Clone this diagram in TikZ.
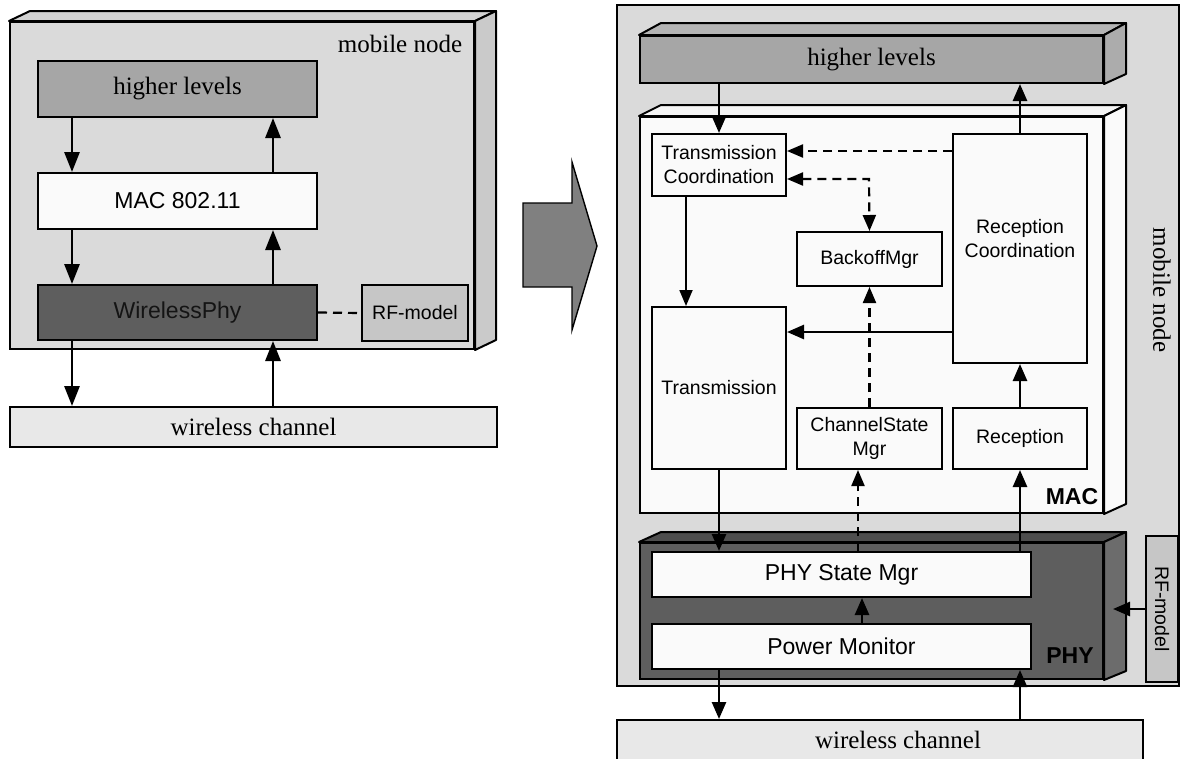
\documentclass[tikz,border=0pt]{standalone}
\usepackage{fontspec}
\setmainfont{Liberation Serif}
\setsansfont{Liberation Sans}
\usetikzlibrary{arrows.meta,calc}
\definecolor{bggray}{HTML}{DADADA}
\definecolor{bgtop}{HTML}{D2D2D2}
\definecolor{bgside}{HTML}{CACACA}
\definecolor{hlgray}{HTML}{A6A6A6}
\definecolor{hltop}{HTML}{B4B4B4}
\definecolor{hlside}{HTML}{ACACAC}
\definecolor{macwhite}{HTML}{FAFAFA}
\definecolor{macside}{HTML}{F4F4F4}
\definecolor{phygray}{HTML}{5E5E5E}
\definecolor{phytop}{HTML}{4E4E4E}
\definecolor{physide}{HTML}{6C6C6C}
\definecolor{rfgray}{HTML}{C6C6C6}
\definecolor{wcgray}{HTML}{E8E8E8}
\definecolor{bigarrow}{HTML}{808080}
\definecolor{textdark}{HTML}{141414}
\begin{document}
\begin{tikzpicture}[x=1pt,y=-1pt,
  blk/.style={draw, line width=2pt, inner sep=0pt, align=center},
  face/.style={draw, line width=2pt, line join=round},
  serif25/.style={font=\rmfamily\fontsize{25}{28}\selectfont},
  sansL/.style={font=\sffamily\fontsize{23}{27}\selectfont},
  sansS/.style={font=\sffamily\fontsize{19.5}{24}\selectfont},
  sansB/.style={font=\sffamily\bfseries\fontsize{23}{27}\selectfont},
  arrL/.style={line width=2.8pt, -{Triangle[width=15pt,length=20pt]}},
  arrR/.style={line width=2.6pt, -{Triangle[width=14pt,length=17pt]}},
  arrT/.style={line width=1.8pt, -{Triangle[width=13pt,length=16pt]}},
  darr/.style={line width=2.2pt, dash pattern=on 9pt off 6pt, -{Triangle[width=13pt,length=16pt]}},
  ddarr/.style={line width=2.2pt, dash pattern=on 9pt off 6pt, {Triangle[width=13pt,length=16pt]}-{Triangle[width=13pt,length=16pt]}},
  dline/.style={line width=2.2pt, dash pattern=on 9pt off 6pt},
]
\useasboundingbox[fill=white] (0,0) rectangle (1181,758);

%% ---------------- left panel ----------------
\node[blk, fill=bggray, minimum width=464, minimum height=327] (lmn) at (242,185.5) {};
\draw[face, fill=bgtop] (lmn.north west) -- ++(21,-10) -- ([xshift=21pt,yshift=10pt]lmn.north east) -- (lmn.north east) -- cycle;
\draw[face, fill=bgside] (lmn.north east) -- ++(21,-10) -- ([xshift=21pt,yshift=10pt]lmn.south east) -- (lmn.south east) -- cycle;
\node[serif25] (lmnlabel) at (400,44) {mobile node};

\node[blk, fill=hlgray, minimum width=279, minimum height=56, serif25] (lhl) at (177.5,89) {higher levels};
\node[blk, fill=macwhite, minimum width=279, minimum height=56, sansL] (lmac) at (177.5,201) {MAC 802.11};
\node[blk, fill=phygray, minimum width=279, minimum height=55, sansL, text=textdark] (lphy) at (177.5,312.5) {WirelessPhy};
\node[blk, fill=rfgray, minimum width=106, minimum height=56, sansS] (lrf) at (415,313) {RF-model};
\node[blk, fill=wcgray, minimum width=487, minimum height=40, serif25] (lwc) at (253.5,427) {wireless channel};

\draw[arrL] (lhl.south -| 72,0) -- (lmac.north -| 72,0);
\draw[arrL] (lmac.north -| 273,0) -- (lhl.south -| 273,0);
\draw[arrL] (lmac.south -| 72,0) -- (lphy.north -| 72,0);
\draw[arrL] (lphy.north -| 273,0) -- (lmac.south -| 273,0);
\draw[arrL] (lphy.south -| 72,0) -- (lwc.north -| 72,0);
\draw[arrL] (lwc.north -| 273,0) -- (lphy.south -| 273,0);
\draw[dline] (lphy.east) -- (lrf.west);

%% ---------------- big arrow ----------------
\draw[line width=1.4pt, fill=bigarrow, line join=miter]
  (523,203) -- (572,203) -- (572,162) -- (597,246) -- (572,330) -- (572,287) -- (523,287) -- cycle;

%% ---------------- right panel ----------------
\node[blk, fill=bggray, minimum width=562, minimum height=681] (rmn) at (898,345.5) {};
\node[serif25, rotate=-90] (rmnlabel) at (1162,290) {mobile node};

% higher levels (3D)
\node[blk, fill=hlgray, minimum width=463, minimum height=47, serif25] (rhl) at (871.5,59.5) {higher levels};
\draw[face, fill=hltop] (rhl.north west) -- ++(22,-12) -- ([xshift=22pt,yshift=12pt]rhl.north east) -- (rhl.north east) -- cycle;
\draw[face, fill=hlside] (rhl.north east) -- ++(22,-12) -- ([xshift=22pt,yshift=10pt]rhl.south east) -- (rhl.south east) -- cycle;

% MAC (3D)
\node[blk, fill=macwhite, minimum width=463, minimum height=396] (rmac) at (871.5,315) {};
\draw[face, fill=macside] (rmac.north west) -- ++(22,-11) -- ([xshift=22pt,yshift=11pt]rmac.north east) -- (rmac.north east) -- cycle;
\draw[face, fill=macwhite] (rmac.north east) -- ++(22,-11) -- ([xshift=22pt,yshift=10pt]rmac.south east) -- (rmac.south east) -- cycle;
\node[sansB] (maclabel) at (1072,497) {MAC};

\node[blk, fill=macwhite, minimum width=134, minimum height=62, sansS] (tc) at (719,165) {Transmission\\Coordination};
\node[blk, fill=macwhite, minimum width=145, minimum height=54, sansS] (bo) at (869.5,259) {BackoffMgr};
\node[blk, fill=macwhite, minimum width=134, minimum height=229] (rc) at (1020,248.5) {};
\node[sansS, align=center] (rclabel) at (1020,239) {Reception\\Coordination};
\node[blk, fill=macwhite, minimum width=134, minimum height=162, sansS] (tr) at (719,388) {Transmission};
\node[blk, fill=macwhite, minimum width=145, minimum height=61, sansS] (cs) at (869.5,438.5) {ChannelState\\Mgr};
\node[blk, fill=macwhite, minimum width=134, minimum height=61, sansS] (rx) at (1020,438.5) {Reception};

% PHY (3D)
\node[blk, fill=phygray, minimum width=463, minimum height=136] (rphy) at (871.5,611) {};
\draw[face, fill=phytop] (rphy.north west) -- ++(22,-10) -- ([xshift=22pt,yshift=10pt]rphy.north east) -- (rphy.north east) -- cycle;
\draw[face, fill=physide] (rphy.north east) -- ++(22,-10) -- ([xshift=22pt,yshift=9pt]rphy.south east) -- (rphy.south east) -- cycle;
\node[sansB] (phylabel) at (1070,656) {PHY};
\node[blk, fill=macwhite, minimum width=379, minimum height=45, sansL] (psm) at (841.5,574.5) {PHY State Mgr};
\node[blk, fill=macwhite, minimum width=379, minimum height=45, sansL] (pm) at (841.5,646.5) {Power Monitor};

% RF-model (right)
\node[blk, fill=rfgray, minimum width=32, minimum height=146] (rrf) at (1162,609) {};
\node[sansS, rotate=-90] (rrflabel) at (rrf.center) {RF-model};
\coordinate (physidept) at (1113,609);

% wireless channel (right)
\node[blk, fill=wcgray, minimum width=526, minimum height=44] (rwc) at (880,742) {};
\node[serif25] (rwclabel) at (898,740) {wireless channel};

% connectors
\draw[arrR] (rhl.south -| tc.north) -- (tc.north);
\draw[arrR] (rc.north) -- (rc.north |- rhl.south);
\draw[darr] (rc.west |- 0,151) -- (tc.east |- 0,151);
\draw[ddarr] (tc.east |- 0,179) -- (869,179) -- (bo.north);
\draw[arrT] (tc.south -| 686,0) -- (tr.north -| 686,0);
\draw[arrR] (rc.west |- 0,332) -- (tr.east |- 0,332);
\draw[darr] (cs.north) -- (bo.south);
\draw[arrR] (rx.north) -- (rc.south);
\draw[arrR] (tr.south) -- (tr.south |- psm.north);
\draw[darr] (psm.north -| 858,0) -- (cs.south -| 858,0);
\draw[arrR] (psm.north -| rx.south) -- (rx.south);
\draw[arrR] (pm.north -| 862,0) -- (psm.south -| 862,0);
\draw[arrR] (pm.south -| 719,0) -- (rwc.north -| 719,0);
\draw[arrR] (rwc.north -| 1020,0) -- (pm.south -| 1020,0);
\draw[arrR] (rrf.west) -- (physidept);
\end{tikzpicture}
\end{document}
